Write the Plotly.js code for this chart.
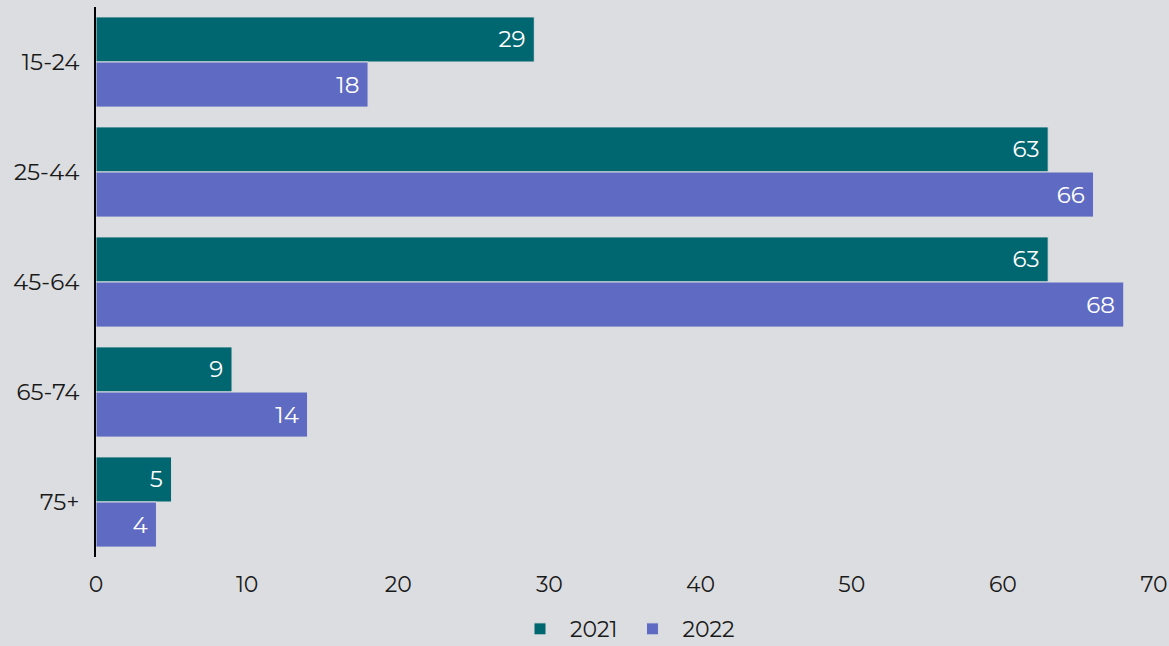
<!DOCTYPE html>
<html>
<head>
<meta charset="utf-8">
<script src="https://cdn.plot.ly/plotly-3.0.1.min.js"></script>
<style>html,body{margin:0;padding:0;background:#dcdde0;}#chart{width:1169px;height:646px;}</style>
</head>
<body>
<div id="chart"></div>
<script>
const categories = ["15-24", "25-44", "45-64", "65-74", "75+"];
const values2021 = [29, 63, 63, 9, 5];
const values2022 = [18, 66, 68, 14, 4];
const seriesNames = ["2021", "2022"];
const xTicks = [0, 10, 20, 30, 40, 50, 60, 70];

const FONT = "Montserrat, 'DejaVu Sans', sans-serif";
const bg = "#dcdde0";

function mk(name, vals, color) {
  return {
    type: "bar", orientation: "h", name: name,
    y: categories, x: vals,
    text: vals.map(String), texttemplate: "%{text}\u2005", textposition: "inside", insidetextanchor: "end",
    constraintext: "none", cliponaxis: false,
    textfont: {color: "#ffffff", size: 23, family: FONT},
    marker: {color: color, line: {color: bg, width: 1}},
    hoverinfo: "x+y"
  };
}

const data = [
  mk(seriesNames[0], values2021, "#006670"),
  mk(seriesNames[1], values2022, "#5f6bc2")
];

const layout = {
  width: 1169, height: 646,
  paper_bgcolor: bg, plot_bgcolor: bg,
  margin: {l: 96, r: 15, t: 7, b: 89, autoexpand: false},
  barmode: "group", bargap: 0.18, bargroupgap: 0,
  font: {family: FONT, size: 22, color: "#1a1a1a"},
  xaxis: {
    range: [0, 70], tickvals: xTicks, ticktext: xTicks.map(String),
    showgrid: false, zeroline: false, showline: false, ticks: "",
    tickfont: {size: 22}, ticklabelstandoff: 12, fixedrange: true, automargin: false
  },
  yaxis: {
    type: "category", autorange: "reversed", automargin: false,
    showgrid: false, zeroline: false, showline: true, linecolor: "#000000", linewidth: 2,
    ticks: "", ticklabelstandoff: 10, tickfont: {size: 23}
  },
  legend: {
    orientation: "h", x: 0.5, xanchor: "center", y: -0.131, yanchor: "middle",
    font: {size: 22}, bgcolor: "rgba(0,0,0,0)", itemwidth: 50
  },
  showlegend: true
};

Plotly.newPlot("chart", data, layout, {displayModeBar: false, staticPlot: true});
</script>
</body>
</html>
